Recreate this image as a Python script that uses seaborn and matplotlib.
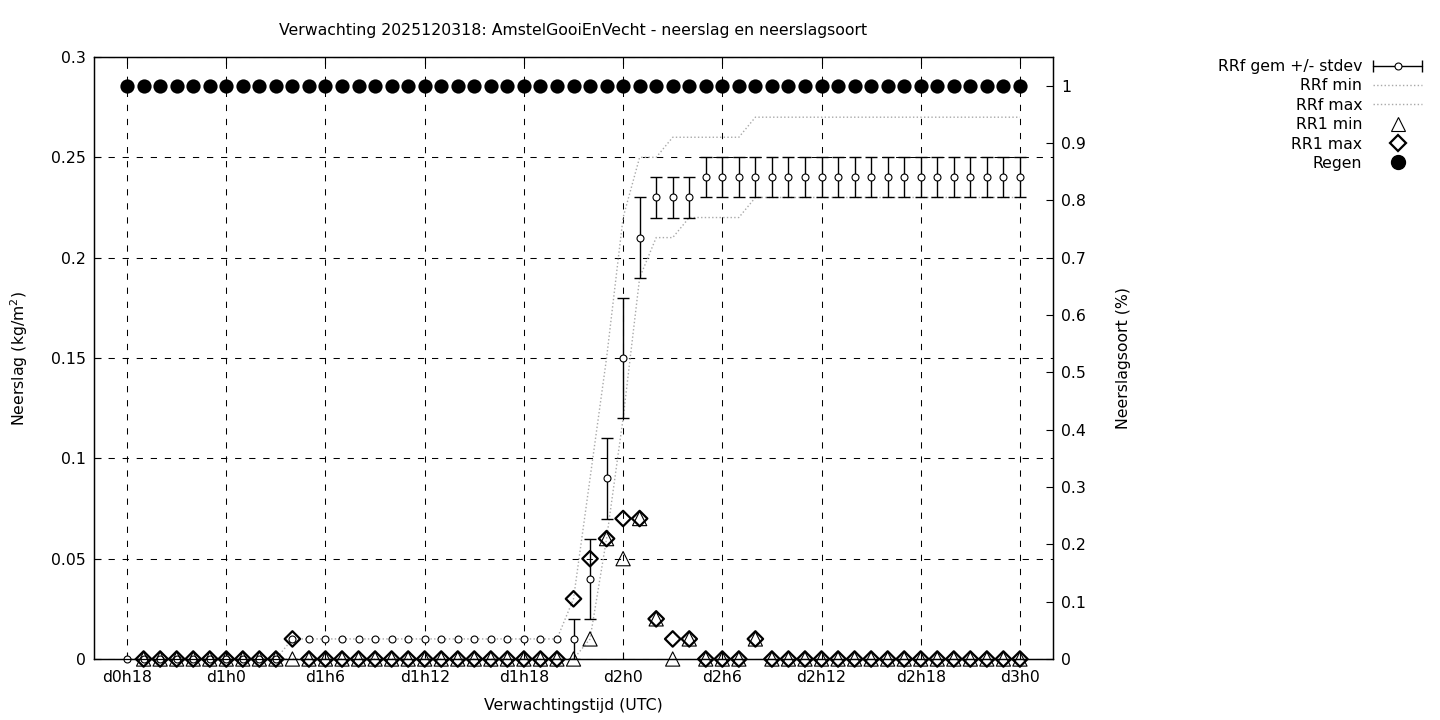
import numpy as np
import pandas as pd
import matplotlib
matplotlib.use('Agg')
import matplotlib.pyplot as plt
from matplotlib.lines import Line2D
from matplotlib.legend_handler import HandlerLine2D
import seaborn as sns

sns.set_style('ticks', {'axes.edgecolor': 'black', 'xtick.color': 'black', 'ytick.color': 'black',
                        'text.color': 'black', 'axes.labelcolor': 'black',
                        'xtick.direction': 'in', 'ytick.direction': 'in'})
plt.rcParams['font.family'] = ['DejaVu Sans']
FS = 11.3

# uren na d0h18 (run 2025120318)
hours = [0, 1, 2, 3, 4, 5, 6, 7, 8, 9, 10, 11, 12, 13, 14, 15, 16, 17, 18, 19,
         20, 21, 22, 23, 24, 25, 26, 27, 28, 29, 30, 31, 32, 33, 34, 35, 36, 37, 38, 39,
         40, 41, 42, 43, 44, 45, 46, 47, 48, 49, 50, 51, 52, 53, 54]
tick_hours = [0, 6, 12, 18, 24, 30, 36, 42, 48, 54]
tick_labels = ['d0h18', 'd1h0', 'd1h6', 'd1h12', 'd1h18', 'd2h0', 'd2h6', 'd2h12', 'd2h18', 'd3h0']

# RRf (cumulatief) gemiddelde, stdev, min, max
rrf_mean = [0, 0, 0, 0, 0, 0, 0, 0, 0, 0,
            0.01, 0.01, 0.01, 0.01, 0.01, 0.01, 0.01, 0.01, 0.01, 0.01,
            0.01, 0.01, 0.01, 0.01, 0.01, 0.01, 0.01, 0.01, 0.04, 0.09,
            0.15, 0.21, 0.23, 0.23, 0.23, 0.24, 0.24, 0.24, 0.24, 0.24,
            0.24, 0.24, 0.24, 0.24, 0.24, 0.24, 0.24, 0.24, 0.24, 0.24,
            0.24, 0.24, 0.24, 0.24, 0.24]
rrf_std = [0, 0, 0, 0, 0, 0, 0, 0, 0, 0,
           0, 0, 0, 0, 0, 0, 0, 0, 0, 0,
           0, 0, 0, 0, 0, 0, 0, 0.01, 0.02, 0.02,
           0.03, 0.02, 0.01, 0.01, 0.01, 0.01, 0.01, 0.01, 0.01, 0.01,
           0.01, 0.01, 0.01, 0.01, 0.01, 0.01, 0.01, 0.01, 0.01, 0.01,
           0.01, 0.01, 0.01, 0.01, 0.01]
rrf_min = [0, 0, 0, 0, 0, 0, 0, 0, 0, 0,
           0, 0, 0, 0, 0, 0, 0, 0, 0, 0,
           0, 0, 0, 0, 0, 0, 0, 0, 0.01, 0.06,
           0.12, 0.19, 0.21, 0.21, 0.22, 0.22, 0.22, 0.22, 0.23, 0.23,
           0.23, 0.23, 0.23, 0.23, 0.23, 0.23, 0.23, 0.23, 0.23, 0.23,
           0.23, 0.23, 0.23, 0.23, 0.23]
rrf_max = [0, 0, 0, 0, 0, 0, 0, 0, 0, 0,
           0.01, 0.01, 0.01, 0.01, 0.01, 0.01, 0.01, 0.01, 0.01, 0.01,
           0.01, 0.01, 0.01, 0.01, 0.01, 0.01, 0.01, 0.03, 0.09, 0.15,
           0.22, 0.25, 0.25, 0.26, 0.26, 0.26, 0.26, 0.26, 0.27, 0.27,
           0.27, 0.27, 0.27, 0.27, 0.27, 0.27, 0.27, 0.27, 0.27, 0.27,
           0.27, 0.27, 0.27, 0.27, 0.27]

# RR1 (uurlijks), begint een uur later
rr1_hours = hours[1:]
rr1_min = [0, 0, 0, 0, 0, 0, 0, 0, 0,
           0, 0, 0, 0, 0, 0, 0, 0, 0, 0,
           0, 0, 0, 0, 0, 0, 0, 0, 0.01, 0.06,
           0.05, 0.07, 0.02, 0, 0.01, 0, 0, 0, 0.01, 0,
           0, 0, 0, 0, 0, 0, 0, 0, 0, 0,
           0, 0, 0, 0, 0]
rr1_max = [0, 0, 0, 0, 0, 0, 0, 0, 0,
           0.01, 0, 0, 0, 0, 0, 0, 0, 0, 0,
           0, 0, 0, 0, 0, 0, 0, 0.03, 0.05, 0.06,
           0.07, 0.07, 0.02, 0.01, 0.01, 0, 0, 0, 0.01, 0,
           0, 0, 0, 0, 0, 0, 0, 0, 0, 0,
           0, 0, 0, 0, 0]

# neerslagsoort regen (fractie)
regen = [1, 1, 1, 1, 1, 1, 1, 1, 1, 1, 1, 1, 1, 1, 1, 1, 1, 1, 1, 1,
         1, 1, 1, 1, 1, 1, 1, 1, 1, 1, 1, 1, 1, 1, 1, 1, 1, 1, 1, 1,
         1, 1, 1, 1, 1, 1, 1, 1, 1, 1, 1, 1, 1, 1, 1]

y_ticks = [0, 0.05, 0.1, 0.15, 0.2, 0.25, 0.3]
y_labels = ['0', '0.05', '0.1', '0.15', '0.2', '0.25', '0.3']
y2_ticks = [0, 0.1, 0.2, 0.3, 0.4, 0.5, 0.6, 0.7, 0.8, 0.9, 1.0]
y2_labels = ['0', '0.1', '0.2', '0.3', '0.4', '0.5', '0.6', '0.7', '0.8', '0.9', '1']

df = pd.DataFrame({'uur': hours, 'gem': rrf_mean, 'std': rrf_std,
                   'min': rrf_min, 'max': rrf_max, 'regen': regen})
df1 = pd.DataFrame({'uur': rr1_hours, 'min': rr1_min, 'max': rr1_max})

fig = plt.figure(figsize=(14.4, 7.2), dpi=100)
ax = fig.add_axes([94 / 1440, 1 - 659 / 720, 959 / 1440, 602 / 720])

ax.grid(True, color='black', linestyle=(0, (6, 7.5)), linewidth=0.75)

# errorbars alleen waar stdev > 0
e = df[df['std'] > 0]
ax.errorbar(e['uur'], e['gem'], yerr=e['std'], fmt='none', ecolor='black',
            elinewidth=1.0, capsize=4.3, capthick=1.0, zorder=3)
sns.scatterplot(data=df, x='uur', y='gem', marker='o', s=25, color='white',
                edgecolor='black', linewidth=0.8, ax=ax, zorder=4, clip_on=False, legend=False)

grey = '#a8a8a8'
sns.lineplot(data=df, x='uur', y='min', color=grey, linestyle=':', linewidth=1.0, ax=ax, zorder=2)
sns.lineplot(data=df, x='uur', y='max', color=grey, linestyle=':', linewidth=1.0, ax=ax, zorder=2)

sns.scatterplot(data=df1, x='uur', y='min', marker='^', s=105, facecolors='none',
                edgecolor='black', linewidth=0.8, ax=ax, zorder=5, clip_on=False, legend=False)
sns.scatterplot(data=df1, x='uur', y='max', marker='D', s=62, facecolors='none',
                edgecolor='black', linewidth=1.6, ax=ax, zorder=6, clip_on=False, legend=False)

ax2 = ax.twinx()
sns.scatterplot(data=df, x='uur', y='regen', marker='o', s=105, color='black',
                edgecolor='black', linewidth=0, ax=ax2, zorder=5, legend=False)

ax.set_xlim(-2, 56)
ax.set_ylim(0, 0.3)
ax2.set_ylim(0, 1.05)
ax.set_xticks(tick_hours, tick_labels)
ax.set_yticks(y_ticks, y_labels)
ax2.set_yticks(y2_ticks, y2_labels)
ax.tick_params(axis='both', direction='in', length=5, width=0.8, labelsize=FS)
ax.tick_params(axis='x', pad=8, top=True)
ax.tick_params(axis='y', pad=6, right=False)
ax2.tick_params(axis='y', direction='in', length=5, width=0.8, labelsize=FS, pad=6)
for a in (ax, ax2):
    for s in a.spines.values():
        s.set_linewidth(0.9)
        s.set_color('black')

ax.set_title('Verwachting 2025120318: AmstelGooiEnVecht - neerslag en neerslagsoort',
             fontsize=FS, pad=16)
ax.set_xlabel('Verwachtingstijd (UTC)', fontsize=FS)
ax.xaxis.set_label_coords(0.5, -(698 - 659) / 602)
ax.set_ylabel('Neerslag (kg/m$^2$)', fontsize=FS)
ax.yaxis.set_label_coords((30 - 94) / 959, 0.5)
ax2.set_ylabel('Neerslagsoort (%)', fontsize=FS)
ax2.yaxis.set_label_coords((1116 - 94) / 959, 0.5)

# legenda rechtsboven buiten de plot
cap_line = Line2D([], [], color='black', lw=1.0, marker='|', markersize=8, mew=1.0)
dot_line = Line2D([], [], color='none', marker='o', markersize=5, mfc='white', mec='black', mew=0.8)
handles = [(cap_line, dot_line),
           Line2D([], [], color=grey, ls=':', lw=1.0),
           Line2D([], [], color=grey, ls=':', lw=1.0),
           Line2D([], [], ls='', marker='^', ms=10, mfc='none', mec='black', mew=0.8),
           Line2D([], [], ls='', marker='D', ms=7.8, mfc='none', mec='black', mew=1.6),
           Line2D([], [], ls='', marker='o', ms=10, mfc='black', mec='black')]
labels = ['RRf gem +/- stdev', 'RRf min', 'RRf max', 'RR1 min', 'RR1 max', 'Regen']
fig.legend(handles, labels, loc='upper right', bbox_to_anchor=(1422 / 1440, 1 - 59 / 720),
           frameon=False, markerfirst=False, fontsize=FS, handlelength=3.1,
           handletextpad=0.7, labelspacing=0.28, borderaxespad=0, borderpad=0, numpoints=1,
           handler_map={cap_line: HandlerLine2D(numpoints=2, marker_pad=0)})

fig.savefig('out.png', dpi=100)
